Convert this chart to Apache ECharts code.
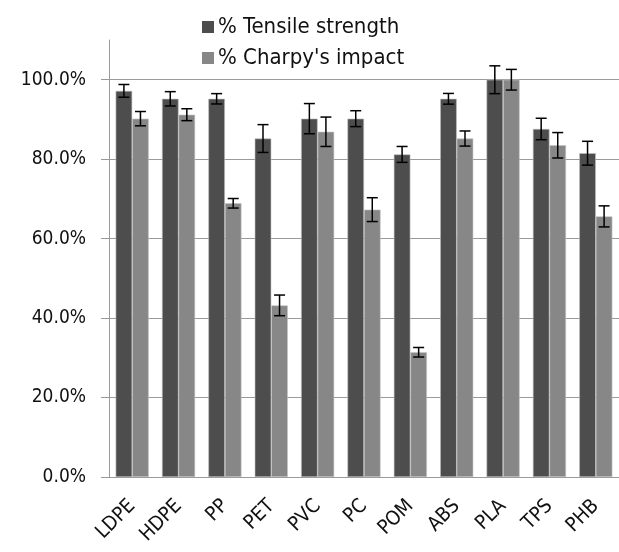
<!DOCTYPE html>
<html>
<head>
<meta charset="utf-8">
<script src="https://cdn.jsdelivr.net/npm/echarts@6/dist/echarts.min.js"></script>
<style>
html,body{margin:0;padding:0;background:#fff;}
#chart{width:619px;height:552px;}
</style>
</head>
<body>
<div id="chart"></div>
<script>
var categories = ['LDPE','HDPE','PP','PET','PVC','PC','POM','ABS','PLA','TPS','PHB'];
var seriesNames = ['% Tensile strength', "% Charpy's impact"];
var tensile = [97.2, 95.2, 95.2, 85.2, 90.2, 90.2, 81.2, 95.2, 100, 87.6, 81.5];
var tensileErr = [1.6, 1.8, 1.3, 3.5, 3.8, 2.0, 2.0, 1.35, 3.5, 2.7, 3.0];
var charpy = [90.2, 91.2, 68.9, 43.2, 86.9, 67.3, 31.4, 85.2, 100, 83.5, 65.6];
var charpyErr = [1.8, 1.5, 1.2, 2.6, 3.7, 3.0, 1.2, 1.9, 2.6, 3.2, 2.65];
var yTicks = [0, 20, 40, 60, 80, 100];

var FONT = "'DejaVu Sans Condensed', 'Liberation Sans Narrow', sans-serif";
var BAR_FRAC = 0.357;

function errData(vals, errs) {
  return vals.map(function (v, i) { return [i, v - errs[i], v + errs[i]]; });
}
function errSeries(vals, errs, side) {
  return {
    type: 'custom',
    silent: true,
    z: 5,
    encode: { x: 0, y: [1, 2] },
    data: errData(vals, errs),
    renderItem: function (params, api) {
      var idx = api.value(0);
      var lo = api.coord([idx, api.value(1)]);
      var hi = api.coord([idx, api.value(2)]);
      var band = api.size([1, 0])[0];
      var x = lo[0] + side * band * BAR_FRAC / 2;
      var cap = 5.5;
      var st = { stroke: '#000', lineWidth: 1.5 };
      return {
        type: 'group',
        children: [
          { type: 'line', shape: { x1: x, y1: lo[1], x2: x, y2: hi[1] }, style: st },
          { type: 'line', shape: { x1: x - cap, y1: lo[1], x2: x + cap, y2: lo[1] }, style: st },
          { type: 'line', shape: { x1: x - cap, y1: hi[1], x2: x + cap, y2: hi[1] }, style: st }
        ]
      };
    }
  };
}

var chart = echarts.init(document.getElementById('chart'), null, { renderer: 'canvas' });
chart.setOption({
  backgroundColor: '#fff',
  animation: false,
  textStyle: { fontFamily: FONT },
  legend: {
    data: seriesNames,
    orient: 'vertical',
    left: 197,
    top: 11,
    itemWidth: 12,
    itemHeight: 12,
    itemGap: 9,
    icon: 'rect',
    itemStyle: { borderWidth: 0 },
    textStyle: { fontFamily: FONT, fontSize: 22, color: '#111', padding: [0, 0, 0, -1] }
  },
  grid: { left: 109, right: -8, top: 40, bottom: 75, containLabel: false },
  xAxis: {
    type: 'category',
    data: categories,
    axisLine: { lineStyle: { color: '#9a9a9a', width: 1 } },
    axisTick: { length: 9, lineStyle: { color: '#9a9a9a' } },
    axisLabel: { rotate: 45, margin: 26, fontSize: 20, color: '#111', fontFamily: FONT, interval: 0 }
  },
  yAxis: {
    type: 'value',
    min: 0,
    max: 110,
    interval: 20,
    axisLine: { show: true, lineStyle: { color: '#9a9a9a', width: 1 } },
    axisTick: { show: true, length: 8, customValues: yTicks, lineStyle: { color: '#9a9a9a' } },
    axisLabel: {
      customValues: yTicks,
      margin: 23,
      fontSize: 19,
      color: '#111',
      fontFamily: FONT,
      formatter: function (v) { return v.toFixed(1) + '%'; }
    },
    splitLine: { show: true, lineStyle: { color: '#9a9a9a', width: 1 } }
  },
  series: [
    {
      name: seriesNames[0], type: 'bar', data: tensile,
      barWidth: (BAR_FRAC * 100) + '%', barGap: '0%',
      itemStyle: { color: '#4d4d4d', borderColor: '#bdbdbd', borderWidth: 0.6 }
    },
    {
      name: seriesNames[1], type: 'bar', data: charpy,
      barWidth: (BAR_FRAC * 100) + '%', barGap: '0%',
      itemStyle: { color: '#878787', borderColor: '#c4c4c4', borderWidth: 0.6 }
    },
    errSeries(tensile, tensileErr, -1),
    errSeries(charpy, charpyErr, 1)
  ]
});
</script>
</body>
</html>
